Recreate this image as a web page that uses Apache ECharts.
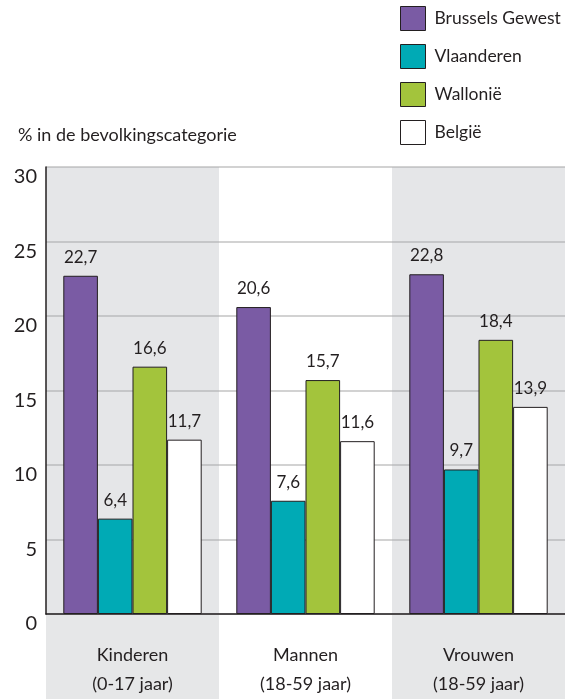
<!DOCTYPE html>
<html>
<head>
<meta charset="utf-8">
<script src="https://cdn.jsdelivr.net/npm/echarts@6/dist/echarts.min.js"></script>
<style>
  html, body { margin: 0; padding: 0; background: #fff; }
  #chart { width: 565px; height: 699px; }
</style>
</head>
<body>
<div id="chart"></div>
<script>
const categories = ['Kinderen\n(0-17 jaar)', 'Mannen\n(18-59 jaar)', 'Vrouwen\n(18-59 jaar)'];
const regions = ['Brussels Gewest', 'Vlaanderen', 'Wallonië', 'België'];
const brussel = [22.7, 20.6, 22.8];
const vlaanderen = [6.4, 7.6, 9.7];
const wallonie = [16.6, 15.7, 18.4];
const belgie = [11.7, 11.6, 13.9];

const colors = {
  'Brussels Gewest': '#7a5ba4',
  'Vlaanderen': '#00aab5',
  'Wallonië': '#a3c43c',
  'België': '#ffffff'
};

const font = 'Lato, "DejaVu Sans Condensed", sans-serif';
// semi-transparent bands so the grid lines underneath stay visible
const bandColors = ['rgba(170,173,178,0.3)', 'rgba(255,255,255,0)'];
const bandColorsBottom = ['#e6e7e8', '#ffffff'];

const chart = echarts.init(document.getElementById('chart'), null, { renderer: 'canvas' });

const valueLabel = {
  show: true,
  position: 'top',
  distance: 10,
  color: '#231f20',
  fontFamily: font,
  fontSize: 17,
  formatter: p => String(p.value).replace('.', ',')
};

chart.setOption({
  backgroundColor: '#fff',
  animation: false,
  title: {
    text: '% in de bevolkingscategorie',
    left: 13,
    top: 121,
    textStyle: { fontFamily: font, fontSize: 18, fontWeight: 'normal', color: '#231f20' }
  },
  legend: {
    orient: 'vertical',
    left: 400,
    top: 6,
    padding: 0,
    itemWidth: 25,
    itemHeight: 24,
    itemGap: 13,
    icon: 'rect',
    data: regions,
    itemStyle: { borderColor: '#231f20', borderWidth: 1 },
    textStyle: { fontFamily: font, fontSize: 17.5, color: '#231f20', padding: [0, 0, 0, 4] }
  },
  grid: [
    { left: 46, right: 0, top: 167, bottom: 85 },
    { left: 46, right: 0, top: 615, bottom: 0 }
  ],
  xAxis: [
    {
      type: 'category',
      gridIndex: 0,
      data: categories,
      axisLine: { show: true, lineStyle: { color: '#231f20', width: 1.5 } },
      axisTick: { show: false },
      axisLabel: { show: false },
      splitLine: { show: false },
      splitArea: { show: true, areaStyle: { color: bandColors } }
    },
    {
      type: 'category',
      gridIndex: 1,
      position: 'top',
      data: categories,
      axisLine: { show: false },
      axisTick: { show: false },
      axisLabel: {
        inside: true,
        margin: 26,
        verticalAlign: 'top',
        lineHeight: 29,
        fontFamily: font,
        fontSize: 18,
        color: '#231f20'
      },
      splitArea: { show: true, areaStyle: { color: bandColorsBottom } }
    }
  ],
  yAxis: [
    {
      type: 'value',
      gridIndex: 0,
      min: 0,
      max: 30,
      interval: 5,
      axisLine: { show: true, lineStyle: { color: '#231f20', width: 1.5 } },
      axisTick: { show: false },
      axisLabel: {
        margin: 9,
        verticalAlign: 'top',
        fontFamily: font,
        fontSize: 20,
        color: '#231f20'
      },
      splitLine: { show: true, lineStyle: { color: '#c3c3c3', width: 1.5 } }
    },
    { type: 'value', gridIndex: 1, show: false }
  ],
  series: [
    [regions[0], brussel],
    [regions[1], vlaanderen],
    [regions[2], wallonie],
    [regions[3], belgie]
  ].map(([name, values]) => ({
    name,
    type: 'bar',
    xAxisIndex: 0,
    yAxisIndex: 0,
    barGap: 0,
    barCategoryGap: '20%',
    itemStyle: { color: colors[name], borderColor: '#231f20', borderWidth: 1 },
    label: valueLabel,
    data: values
  }))
});
</script>
</body>
</html>
